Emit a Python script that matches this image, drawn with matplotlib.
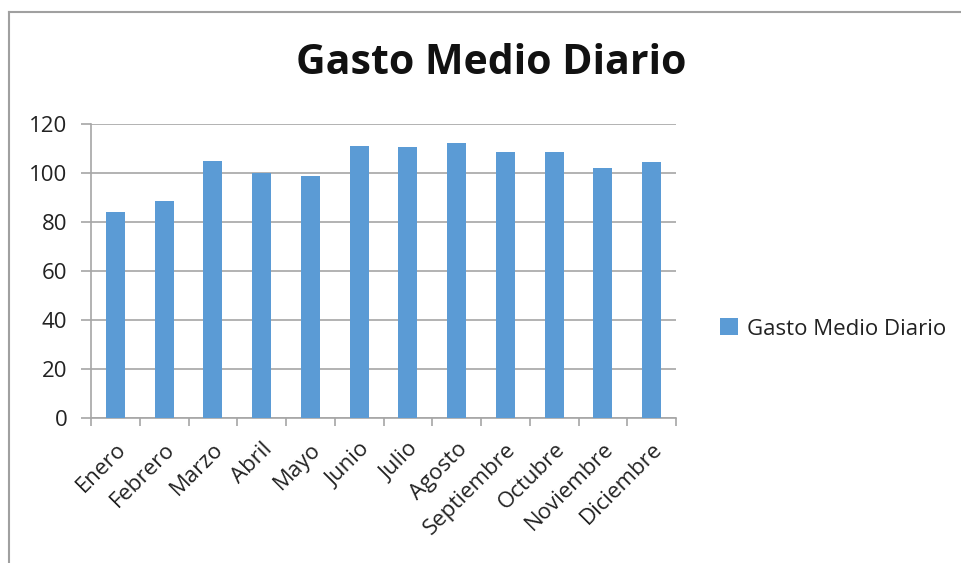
import matplotlib
matplotlib.use("Agg")
import matplotlib.pyplot as plt
from matplotlib.lines import Line2D
from matplotlib.patches import Patch

meses = ["Enero", "Febrero", "Marzo", "Abril", "Mayo", "Junio", "Julio",
         "Agosto", "Septiembre", "Octubre", "Noviembre", "Diciembre"]
gasto = [84, 88.4, 104.9, 100.2, 98.8, 111.2, 110.6, 112.3, 108.6, 108.6, 102, 104.4]
y_ticks = [0, 20, 40, 60, 80, 100, 120]
serie = "Gasto Medio Diario"

W, H = 961, 563
fig = plt.figure(figsize=(W / 100, H / 100), dpi=100)
fig.patch.set_facecolor("white")

left, right, top, bottom = 91, 676, 124, 418
ax = fig.add_axes([left / W, 1 - bottom / H, (right - left) / W, (bottom - top) / H])

bar_color = "#5B9BD5"
grid_color = "#A6A6A6"
font = ["Open Sans", "DejaVu Sans"]
fs = 16

x = list(range(len(meses)))
ax.bar(x, gasto, width=0.39, color=bar_color, zorder=3)

ax.set_xlim(-0.5, len(meses) - 0.5)
ax.set_ylim(0, 120)
ax.set_yticks(y_ticks)
ax.set_yticklabels([str(v) for v in y_ticks], family=font, fontsize=fs, color="#222222")
ax.yaxis.grid(True, color=grid_color, linewidth=1.2, zorder=0)
ax.tick_params(axis="y", length=7, color=grid_color, width=1.2, pad=10)

# category ticks sit at the boundaries between months
ax.set_xticks([i - 0.5 for i in range(len(meses) + 1)])
ax.set_xticklabels([])
ax.tick_params(axis="x", length=6, color=grid_color, width=1.2)
ax.set_xticks(x, minor=True)
ax.set_xticklabels(meses, minor=True, rotation=45, ha="right", rotation_mode="anchor",
                   family=font, fontsize=fs, color="#222222")
ax.tick_params(axis="x", which="minor", length=0, pad=15)

for s in ["top", "right"]:
    ax.spines[s].set_visible(False)
for s in ["left", "bottom"]:
    ax.spines[s].set_color(grid_color)
    ax.spines[s].set_linewidth(1.2)

fig.text(491 / W, 1 - 64 / H, serie, ha="center", va="center",
         family=font, fontsize=29.5, fontweight="bold", color="#111111")

leg = fig.legend(handles=[Patch(facecolor=bar_color, label=serie)],
                 loc="center left", bbox_to_anchor=(700 / W, 1 - 329 / H),
                 frameon=False, prop={"family": font, "size": fs},
                 handlelength=0.8, handleheight=0.8, handletextpad=0.4)
for t in leg.get_texts():
    t.set_color("#222222")

# outer frame on the top and left edges
fig.add_artist(Line2D([9 / W, 9 / W], [0, 1 - 12 / H], transform=fig.transFigure,
                      color="#A0A0A0", linewidth=1.5))
fig.add_artist(Line2D([9 / W, 1], [1 - 12 / H, 1 - 12 / H], transform=fig.transFigure,
                      color="#A0A0A0", linewidth=1.5))

fig.savefig("out.png", dpi=100, facecolor="white")
